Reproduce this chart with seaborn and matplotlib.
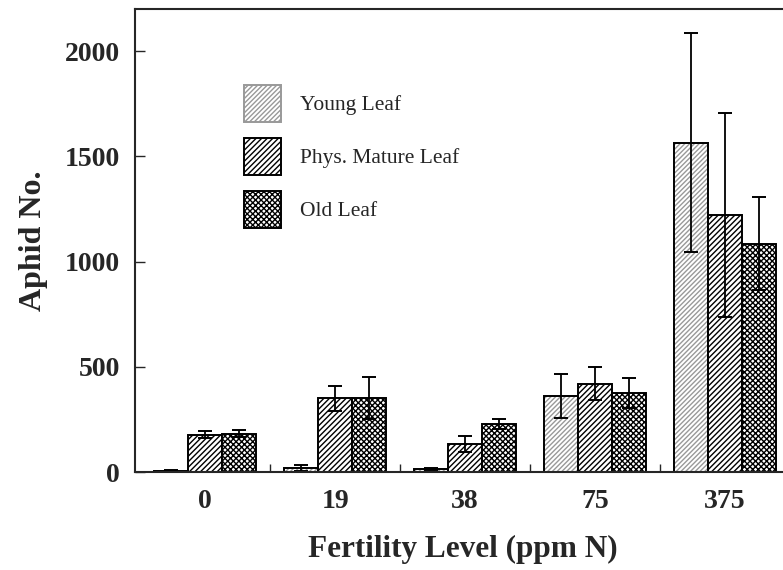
import matplotlib
matplotlib.use("Agg")

import numpy as np
import pandas as pd
import matplotlib.pyplot as plt
import seaborn as sns
from matplotlib.patches import Patch, Rectangle

# -----------------------------
# Data
# -----------------------------

levels = ["0", "19", "38", "75", "375"]
leaf_types = ["Young Leaf", "Phys. Mature Leaf", "Old Leaf"]

young_mean = [5, 20, 15, 360, 1565]
young_err = [3, 15, 6, 105, 520]
mature_mean = [178, 350, 135, 420, 1220]
mature_err = [16, 60, 38, 78, 485]
old_mean = [182, 350, 228, 375, 1085]
old_err = [16, 100, 25, 72, 220]

means = [young_mean, mature_mean, old_mean]
errs = [young_err, mature_err, old_err]

df = pd.DataFrame({
    "level": levels * 3,
    "leaf": np.repeat(leaf_types, len(levels)),
    "aphids": young_mean + mature_mean + old_mean,
})

# -----------------------------
# Style
# -----------------------------

sns.set_style("ticks")
plt.rcParams["font.family"] = ["Liberation Serif", "DejaVu Serif"]
plt.rcParams["hatch.linewidth"] = 1.0

fig = plt.figure(figsize=(7.83, 5.70), dpi=100)
ax = fig.add_axes([135 / 783, 98 / 570, 655 / 783, 463 / 570])

sns.barplot(
    data=df, x="level", y="aphids", hue="leaf",
    order=levels, hue_order=leaf_types,
    palette=["white"] * 3, edgecolor="black", linewidth=1.4,
    width=0.78, errorbar=None, legend=False, ax=ax,
)

hatches = ["///////", "//////", "xxxxxx"]
hatch_edges = ["0.6", "black", "black"]

bars = [p for p in ax.patches if isinstance(p, Rectangle)]
for i, p in enumerate(bars[:15]):
    k = i // len(levels)
    j = i % len(levels)
    p.set_hatch(hatches[k])
    p.set_edgecolor(hatch_edges[k])
    if k == 0:
        # black outline on top of the light grey hatching
        ax.add_patch(Rectangle(p.get_xy(), p.get_width(), p.get_height(),
                               fill=False, edgecolor="black", linewidth=1.4))
    xc = p.get_x() + p.get_width() / 2
    ax.errorbar(xc, means[k][j], yerr=errs[k][j], fmt="none",
                ecolor="black", elinewidth=1.3, capsize=5, capthick=1.4)

# -----------------------------
# Axes
# -----------------------------

ax.set_ylim(0, 2200)
ax.set_xlim(-0.54, 4.5)
ax.set_yticks([0, 500, 1000, 1500, 2000])
ax.set_xticks(range(len(levels)))
ax.set_xticklabels(levels)
ax.set_xticks(np.arange(0.5, len(levels) - 0.5, 1), minor=True)

ax.tick_params(axis="y", direction="in", length=7, width=1.0, pad=11,
               labelsize=20)
ax.tick_params(axis="x", which="major", length=0, pad=12, labelsize=20)
ax.tick_params(axis="x", which="minor", direction="in", length=6, width=1.0)
for lab in ax.get_xticklabels() + ax.get_yticklabels():
    lab.set_fontweight("bold")

for s in ax.spines.values():
    s.set_linewidth(1.5)
    s.set_visible(True)

ax.set_xlabel("Fertility Level (ppm N)", fontsize=22.5, fontweight="bold",
              labelpad=15)
ax.set_ylabel("Aphid No.", fontsize=23, fontweight="bold", labelpad=12)

handles = [
    Patch(facecolor="white", edgecolor=hatch_edges[k], hatch=hatches[k],
          linewidth=1.4)
    for k in range(3)
]
leg = ax.legend(
    handles, leaf_types, loc="upper left",
    bbox_to_anchor=(244 / 783, 1 - 85 / 570), bbox_transform=fig.transFigure,
    frameon=False, fontsize=15.5, handlelength=1.7, handleheight=2.3,
    handletextpad=0.9, labelspacing=0.72, borderpad=0, borderaxespad=0,
)
for h in leg.legend_handles:
    h.set_edgecolor("black")
leg.legend_handles[0].set_edgecolor("0.6")

fig.savefig("out.png", dpi=100)
